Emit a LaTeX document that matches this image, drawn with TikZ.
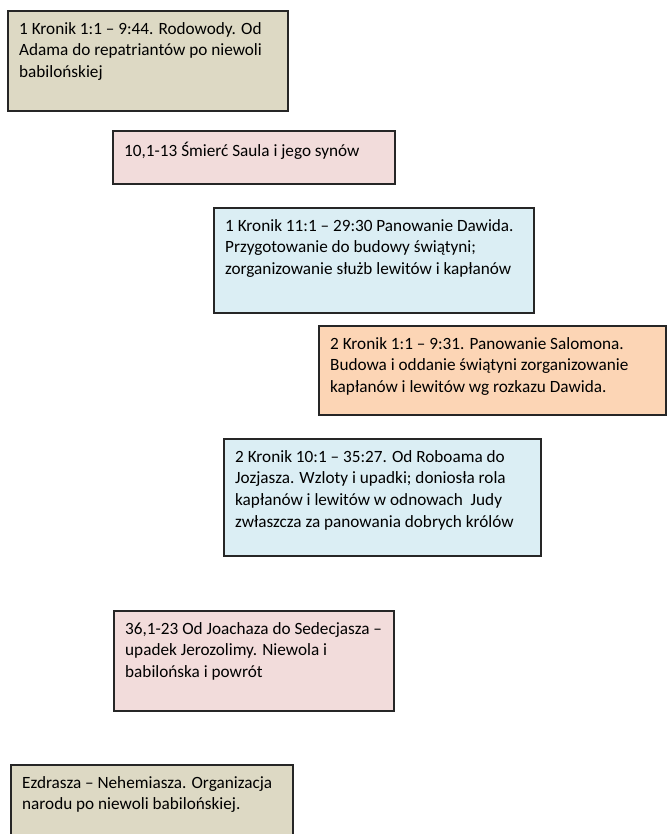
\documentclass[tikz,border=0pt]{standalone}
\usepackage{fontspec}
\setmainfont{Carlito}
\definecolor{tanc}{HTML}{DDD9C4}
\definecolor{pinkc}{HTML}{F2DCDB}
\definecolor{bluec}{HTML}{DBEEF4}
\definecolor{peachc}{HTML}{FCD5B5}
\begin{document}
\begin{tikzpicture}[x=1pt,y=-1pt,
  boxbase/.style={draw=black!85, line width=1.6pt, anchor=north west, inner sep=0pt},
  tanbox/.style={boxbase, fill=tanc},
  pinkbox/.style={boxbase, fill=pinkc},
  bluebox/.style={boxbase, fill=bluec},
  peachbox/.style={boxbase, fill=peachc},
  lbl/.style={anchor=north west, inner sep=0pt, align=left, xshift=12pt, yshift=-12pt,
    font=\fontsize{17.2}{21.8}\selectfont, text=black}]
\clip (0,0) rectangle (667,834);
\fill[white] (0,0) rectangle (667,834);

\node[tanbox, minimum width=280pt, minimum height=100pt] (b1) at (7,10) {};
\node[lbl] (t1) at (b1.north west) {1 Kronik 1:1 – 9:44. Rodowody. Od\\Adama do repatriantów po niewoli\\babilońskiej};

\node[pinkbox, minimum width=282pt, minimum height=53pt] (b2) at (112,130) {};
\node[lbl] (t2) at (b2.north west) {10,1-13 Śmierć Saula i jego synów};

\node[bluebox, minimum width=320pt, minimum height=105pt] (b3) at (213,207) {};
\node[lbl] (t3) at (b3.north west) {1 Kronik 11:1 – 29:30 Panowanie Dawida.\\Przygotowanie do budowy świątyni;\\zorganizowanie służb lewitów i kapłanów};

\node[peachbox, minimum width=347pt, minimum height=89pt] (b4) at (318,325) {};
\node[lbl] (t4) at (b4.north west) {2 Kronik 1:1 – 9:31. Panowanie Salomona.\\Budowa i oddanie świątyni zorganizowanie\\kapłanów i lewitów wg rozkazu Dawida.};

\node[bluebox, minimum width=317pt, minimum height=117pt] (b5) at (223,438) {};
\node[lbl] (t5) at (b5.north west) {2 Kronik 10:1 – 35:27. Od Roboama do\\Jozjasza. Wzloty i upadki; doniosła rola\\kapłanów i lewitów w odnowach\ \ Judy\\zwłaszcza za panowania dobrych królów};

\node[pinkbox, minimum width=280pt, minimum height=100pt] (b6) at (113,610) {};
\node[lbl] (t6) at (b6.north west) {36,1-23 Od Joachaza do Sedecjasza –\\upadek Jerozolimy. Niewola i\\babilońska i powrót};

\node[tanbox, minimum width=282pt, minimum height=100pt] (b7) at (10,764) {};
\node[lbl] (t7) at (b7.north west) {Ezdrasza – Nehemiasza. Organizacja\\narodu po niewoli babilońskiej.};
\end{tikzpicture}
\end{document}
